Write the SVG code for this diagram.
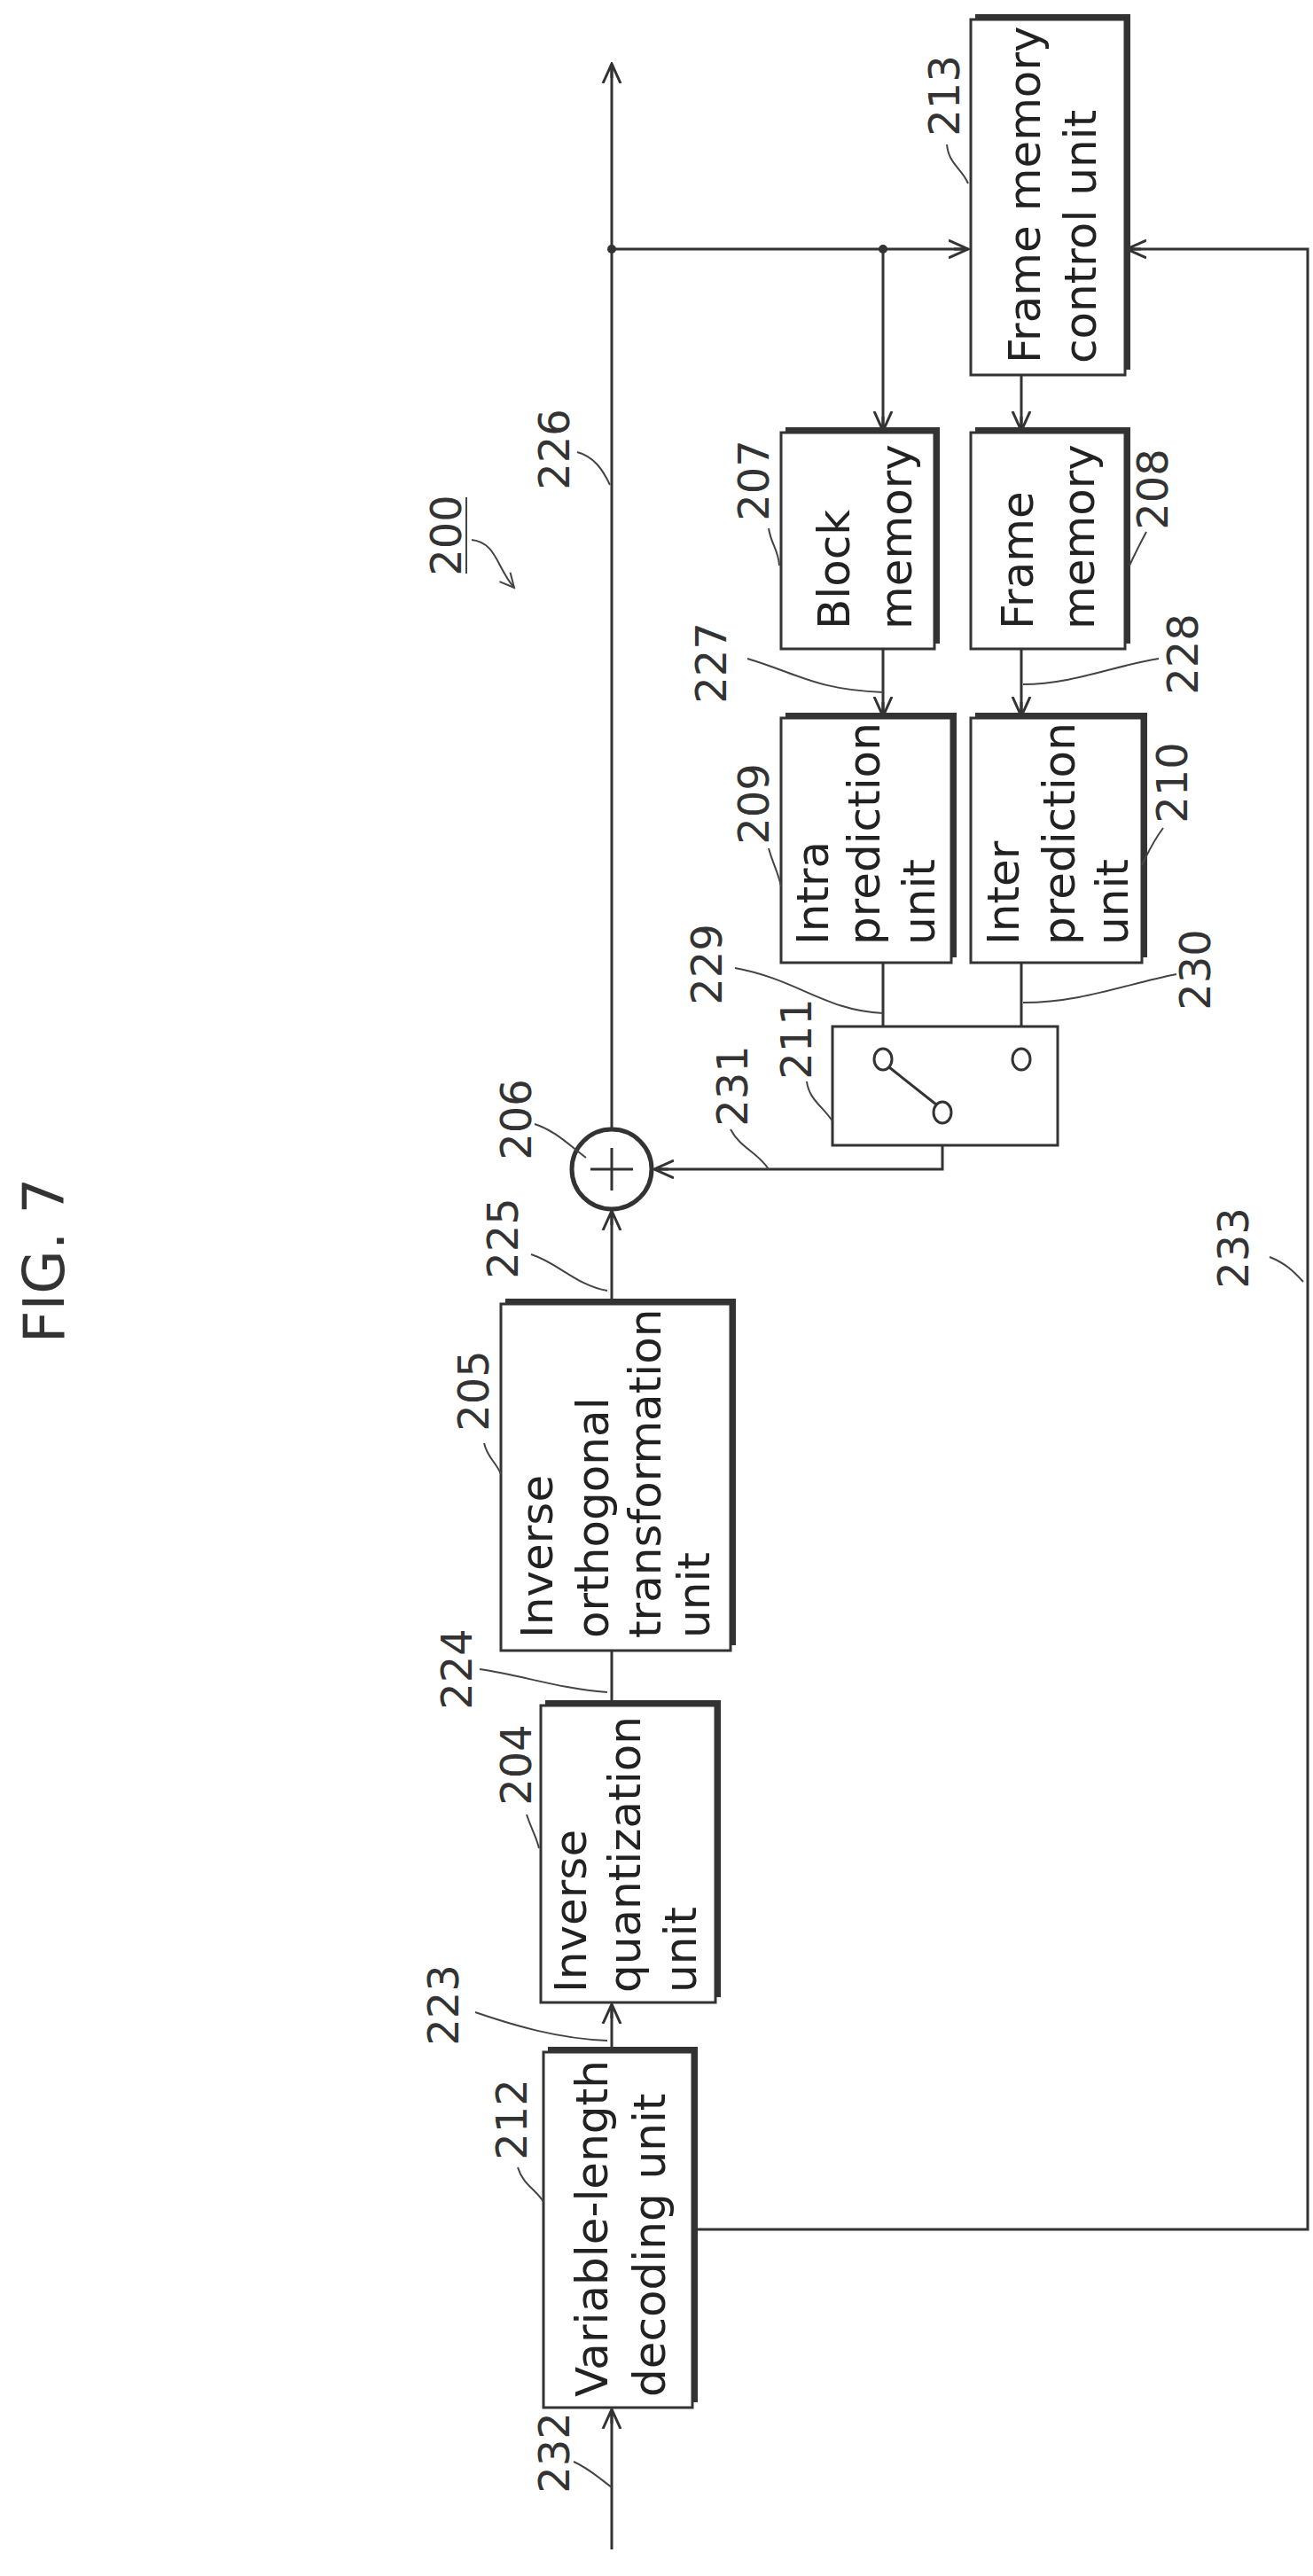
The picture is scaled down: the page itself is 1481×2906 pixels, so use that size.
<svg xmlns="http://www.w3.org/2000/svg" width="1481" height="2906" viewBox="0 0 1481 2906">
<style>
.t{font-family:"DejaVu Sans",sans-serif;font-size:50px;fill:#222}
.n{font-family:"DejaVu Sans",sans-serif;font-size:48px;fill:#333}
.f{font-family:"DejaVu Sans",sans-serif;font-size:64px;fill:#333}
.ln{stroke:#333;stroke-width:3;fill:none}
.ld{stroke:#444;stroke-width:2;fill:none}
.bx{fill:#fff;stroke:#333;stroke-width:3}
.sh{fill:#333}
</style>
<defs>
<marker id="a" markerWidth="24" markerHeight="24" refX="22" refY="12" orient="auto" markerUnits="userSpaceOnUse">
<path d="M0,2 L22,12 L0,22 M6,12 L22,12" stroke="#333" stroke-width="3" fill="none"/>
</marker>
<marker id="s" markerWidth="20" markerHeight="20" refX="18" refY="10" orient="auto" markerUnits="userSpaceOnUse">
<path d="M2,2 L18,10 L2,18" stroke="#444" stroke-width="2" fill="none"/>
</marker>
</defs>
<g id="connectors">
<path class="ln" d="M690,1274 V72" marker-end="url(#a)"/>
<path class="ln" d="M690,281 H1092" marker-end="url(#a)"/>
<circle cx="690" cy="281" r="5" fill="#333"/>
<circle cx="996" cy="281" r="5" fill="#333"/>
<path class="ln" d="M996,281 V486" marker-end="url(#a)"/>
<path class="ln" d="M1152,423 V486" marker-end="url(#a)"/>
<path class="ln" d="M996,732 V808" marker-end="url(#a)"/>
<path class="ln" d="M1152,732 V808" marker-end="url(#a)"/>
<path class="ln" d="M996,1086 V1183" marker-end="url(#a)"/>
<path class="ln" d="M1152,1086 V1183" marker-end="url(#a)"/>
<path class="ln" d="M1063,1267 V1319 H738" marker-end="url(#a)"/>
<path class="ln" d="M690,1471 V1366" marker-end="url(#a)"/>
<path class="ln" d="M690,1921 V1473" marker-end="url(#a)"/>
<path class="ln" d="M690,2315 V2261" marker-end="url(#a)"/>
<path class="ln" d="M690,2876 V2718" marker-end="url(#a)"/>
<path class="ln" d="M781,2515 H1475 V281 H1271" marker-end="url(#a)"/>
</g>
<g id="n213"><rect class="sh" x="1100" y="16" width="175" height="401"/><rect class="bx" x="1095" y="22" width="174" height="401"/>
<text class="t" transform="translate(1173,410) rotate(-90)">Frame memory</text>
<text class="t" transform="translate(1236,410) rotate(-90)">control unit</text></g>
<g id="n207"><rect class="sh" x="886" y="482" width="174" height="244"/><rect class="bx" x="881" y="488" width="173" height="244"/>
<text class="t" transform="translate(958,710) rotate(-90)">Block</text>
<text class="t" transform="translate(1028,710) rotate(-90)">memory</text></g>
<g id="n208"><rect class="sh" x="1100" y="482" width="175" height="244"/><rect class="bx" x="1095" y="488" width="174" height="244"/>
<text class="t" transform="translate(1165,710) rotate(-90)">Frame</text>
<text class="t" transform="translate(1234,710) rotate(-90)">memory</text></g>
<g id="n209"><rect class="sh" x="886" y="804" width="193" height="276"/><rect class="bx" x="881" y="810" width="192" height="276"/>
<text class="t" transform="translate(934,1066) rotate(-90)">Intra</text>
<text class="t" transform="translate(992,1066) rotate(-90)">prediction</text>
<text class="t" transform="translate(1054,1066) rotate(-90)">unit</text></g>
<g id="n210"><rect class="sh" x="1100" y="804" width="194" height="276"/><rect class="bx" x="1095" y="810" width="193" height="276"/>
<text class="t" transform="translate(1149,1066) rotate(-90)">Inter</text>
<text class="t" transform="translate(1212,1066) rotate(-90)">prediction</text>
<text class="t" transform="translate(1272,1066) rotate(-90)">unit</text></g>
<g id="n211"><rect x="939" y="1158" width="254" height="134" fill="#fff" stroke="#333" stroke-width="3"/>
<ellipse cx="996" cy="1195" rx="10" ry="12" class="ln"/>
<ellipse cx="1152" cy="1195" rx="10" ry="12" class="ln"/>
<ellipse cx="1063" cy="1255" rx="10" ry="12" class="ln"/>
<path class="ln" d="M1003,1204 L1056,1246"/></g>
<g id="n206"><circle cx="690" cy="1319" r="45" fill="#fff" stroke="#333" stroke-width="5"/>
<path class="ln" d="M690,1295 V1343 M666,1319 H714"/></g>
<g id="n205"><rect class="sh" x="570" y="1465" width="260" height="391"/><rect class="bx" x="565" y="1471" width="259" height="391"/>
<text class="t" transform="translate(623,1848) rotate(-90)">Inverse</text>
<text class="t" transform="translate(686,1848) rotate(-90)">orthogonal</text>
<text class="t" transform="translate(745,1848) rotate(-90)">transformation</text>
<text class="t" transform="translate(800,1848) rotate(-90)">unit</text></g>
<g id="n204"><rect class="sh" x="615" y="1918" width="198" height="335"/><rect class="bx" x="610" y="1924" width="197" height="335"/>
<text class="t" transform="translate(661,2248) rotate(-90)">Inverse</text>
<text class="t" transform="translate(722,2248) rotate(-90)">quantization</text>
<text class="t" transform="translate(785,2248) rotate(-90)">unit</text></g>
<g id="n212"><rect class="sh" x="618" y="2309" width="169" height="401"/><rect class="bx" x="613" y="2315" width="168" height="401"/>
<text class="t" transform="translate(685,2704) rotate(-90)">Variable-length</text>
<text class="t" transform="translate(750,2704) rotate(-90)">decoding unit</text></g>
<g id="labels">
<text class="f" transform="translate(72,1422) rotate(-90)" text-anchor="middle">FIG. 7</text>
<text class="n" transform="translate(1082,108) rotate(-90)" text-anchor="middle">213</text>
<path class="ld" d="M1068,163 C1070,185 1085,190 1092,207"/>
<text class="n" transform="translate(642,507) rotate(-90)" text-anchor="middle">226</text>
<path class="ld" d="M651,510 C670,515 680,530 688,547"/>
<text class="n" transform="translate(520,604) rotate(-90)" text-anchor="middle">200</text>
<path class="ld" d="M526,561 V647"/>
<path class="ld" d="M532,609 C560,612 560,640 580,663" marker-end="url(#s)"/>
<text class="n" transform="translate(867,542) rotate(-90)" text-anchor="middle">207</text>
<path class="ld" d="M867,596 C870,615 878,620 879,638"/>
<text class="n" transform="translate(1317,552) rotate(-90)" text-anchor="middle">208</text>
<path class="ld" d="M1293,600 C1285,615 1280,625 1274,638"/>
<text class="n" transform="translate(819,748) rotate(-90)" text-anchor="middle">227</text>
<path class="ld" d="M843,743 C900,760 920,778 996,781"/>
<text class="n" transform="translate(1351,738) rotate(-90)" text-anchor="middle">228</text>
<path class="ld" d="M1307,743 C1260,750 1210,772 1154,772"/>
<text class="n" transform="translate(867,907) rotate(-90)" text-anchor="middle">209</text>
<path class="ld" d="M867,957 C872,975 878,985 881,1000"/>
<text class="n" transform="translate(1339,883) rotate(-90)" text-anchor="middle">210</text>
<path class="ld" d="M1312,934 C1300,950 1295,962 1288,976"/>
<text class="n" transform="translate(814,1088) rotate(-90)" text-anchor="middle">229</text>
<path class="ld" d="M829,1092 C900,1105 930,1140 996,1143"/>
<text class="n" transform="translate(1365,1094) rotate(-90)" text-anchor="middle">230</text>
<path class="ld" d="M1327,1099 C1270,1110 1220,1131 1154,1131"/>
<text class="n" transform="translate(915,1172) rotate(-90)" text-anchor="middle">211</text>
<path class="ld" d="M910,1220 C912,1240 930,1250 939,1265"/>
<text class="n" transform="translate(843,1225) rotate(-90)" text-anchor="middle">231</text>
<path class="ld" d="M824,1274 C835,1295 855,1300 867,1319"/>
<text class="n" transform="translate(599,1263) rotate(-90)" text-anchor="middle">206</text>
<path class="ld" d="M603,1268 C625,1275 640,1290 661,1306"/>
<text class="n" transform="translate(584,1397) rotate(-90)" text-anchor="middle">225</text>
<path class="ld" d="M599,1415 C630,1425 650,1450 685,1456"/>
<text class="n" transform="translate(551,1569) rotate(-90)" text-anchor="middle">205</text>
<path class="ld" d="M546,1628 C550,1645 560,1650 565,1663"/>
<text class="n" transform="translate(1408,1408) rotate(-90)" text-anchor="middle">233</text>
<path class="ld" d="M1432,1418 C1450,1425 1460,1435 1470,1446"/>
<text class="n" transform="translate(532,1883) rotate(-90)" text-anchor="middle">224</text>
<path class="ld" d="M541,1883 C590,1890 630,1905 685,1909"/>
<text class="n" transform="translate(599,1991) rotate(-90)" text-anchor="middle">204</text>
<path class="ld" d="M594,2047 C600,2065 605,2072 608,2085"/>
<text class="n" transform="translate(517,2262) rotate(-90)" text-anchor="middle">223</text>
<path class="ld" d="M536,2270 C580,2285 630,2300 685,2302"/>
<text class="n" transform="translate(594,2391) rotate(-90)" text-anchor="middle">212</text>
<path class="ld" d="M584,2445 C590,2465 605,2470 613,2484"/>
<text class="n" transform="translate(642,2767) rotate(-90)" text-anchor="middle">232</text>
<path class="ld" d="M647,2777 C665,2785 675,2795 690,2806"/>
</g>
</svg>
